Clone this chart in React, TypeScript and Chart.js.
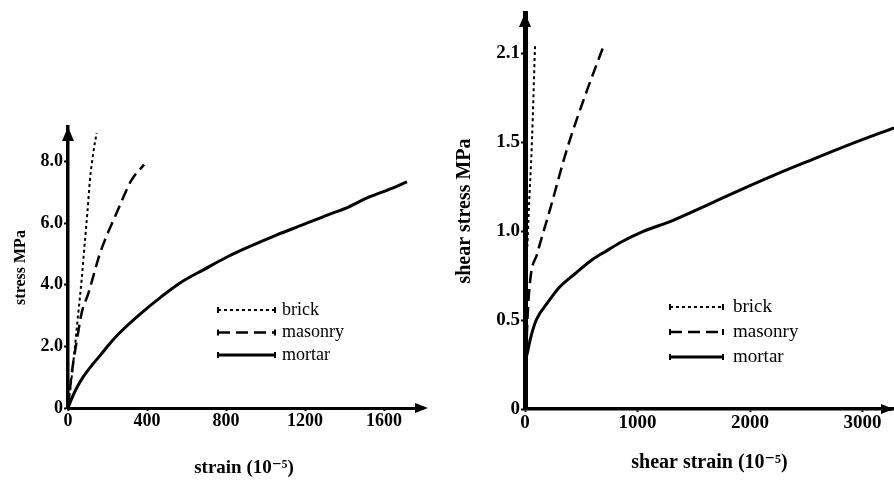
import { useEffect, useRef } from 'react';
import { Chart, registerables } from 'chart.js';

Chart.register(...registerables);

// ---------- Shared ----------
const seriesLabels = ['brick', 'masonry', 'mortar'];

// ---------- Left panel: compression ----------
const strainTicks = [0, 400, 800, 1200, 1600];
const strainTickLabels = ['0', '400', '800', '1200', '1600'];
const stressTicks = [0, 2, 4, 6, 8];
const stressTickLabels = ['0', '2.0', '4.0', '6.0', '8.0'];

const brickStrain = [0, 19, 35, 52, 69, 86, 98, 111, 128, 145];
const brickStress = [0, 1.02, 1.98, 3.08, 4.16, 5.45, 6.33, 7.4, 8.28, 8.93];

const masonryStrain = [0, 19, 45, 69, 103, 162, 246, 322, 385];
const masonryStress = [0, 1.13, 2.2, 3.08, 3.72, 5.02, 6.33, 7.4, 7.9];

const mortarStrain = [0, 15, 40, 76, 120, 162, 210, 263, 365, 470, 567, 690, 805, 930, 1058, 1190, 1316, 1420, 1514, 1620, 1716];
const mortarStress = [0, 0.25, 0.6, 1.0, 1.38, 1.7, 2.08, 2.45, 3.05, 3.6, 4.06, 4.5, 4.9, 5.27, 5.62, 5.95, 6.27, 6.52, 6.82, 7.08, 7.34];

// ---------- Right panel: shear ----------
const shearStrainTicks = [0, 1000, 2000, 3000];
const shearStrainTickLabels = ['0', '1000', '2000', '3000'];
const shearStressTicks = [0, 0.5, 1.0, 1.5, 2.0];
const shearStressTickLabels = ['0', '0.5', '1.0', '1.5', '2.1'];

const shearBrickStrain = [0, 5, 27, 62, 89];
const shearBrickStress = [0, 0.5, 1.0, 1.51, 2.04];

const shearMasonryStrain = [0, 18, 44, 107, 222, 373, 551, 693];
const shearMasonryStress = [0, 0.44, 0.71, 0.87, 1.12, 1.46, 1.79, 2.03];

const shearMortarStrain = [0, 2, 15, 50, 100, 204, 300, 444, 600, 729, 860, 1022, 1316, 1600, 1911, 2200, 2507, 2900, 3280];
const shearMortarStress = [0, 0.2, 0.3, 0.4, 0.5, 0.6, 0.68, 0.76, 0.84, 0.89, 0.94, 0.99, 1.06, 1.14, 1.23, 1.31, 1.39, 1.49, 1.58];

// ---------- Styles ----------
const SERIF = "'Liberation Serif', 'DejaVu Serif', 'Times New Roman', serif";
const seriesStyles = [
  { borderWidth: 2, borderDash: [3, 3] },
  { borderWidth: 2.5, borderDash: [12, 6] },
  { borderWidth: 3, borderDash: [] as number[] },
];

const zip = (xs: number[], ys: number[]) => xs.map((x, i) => ({ x, y: ys[i] }));

const axisArrows = {
  id: 'axisArrows',
  afterDraw(chart: any, _args: any, opts: any) {
    const { ctx, chartArea } = chart;
    const { left, right, top, bottom } = chartArea;
    ctx.save();
    ctx.fillStyle = '#000';
    ctx.strokeStyle = '#000';
    const tipX = right + (opts.xExtend || 0);
    ctx.lineWidth = opts.xWidth || 3;
    ctx.beginPath();
    ctx.moveTo(right - 2, bottom);
    ctx.lineTo(tipX - 6, bottom);
    ctx.stroke();
    ctx.beginPath();
    ctx.moveTo(tipX, bottom);
    ctx.lineTo(tipX - 13, bottom - 5);
    ctx.lineTo(tipX - 13, bottom + 5);
    ctx.closePath();
    ctx.fill();
    const tipY = top;
    ctx.beginPath();
    ctx.moveTo(left, tipY);
    ctx.lineTo(left - 6, tipY + 14);
    ctx.lineTo(left + 6, tipY + 14);
    ctx.closePath();
    ctx.fill();
    ctx.restore();
  },
};

const inlineLegend = {
  id: 'inlineLegend',
  afterDraw(chart: any, _args: any, opts: any) {
    const { ctx } = chart;
    ctx.save();
    chart.data.datasets.forEach((ds: any, i: number) => {
      const y = opts.y + i * opts.rowGap;
      const x0 = opts.x;
      const x1 = opts.x + opts.lineLen;
      ctx.strokeStyle = '#000';
      ctx.fillStyle = '#000';
      ctx.lineWidth = ds.borderWidth;
      ctx.setLineDash(ds.borderDash || []);
      ctx.beginPath();
      ctx.moveTo(x0, y);
      ctx.lineTo(x1, y);
      ctx.stroke();
      ctx.setLineDash([]);
      ctx.lineWidth = 2;
      ctx.beginPath();
      ctx.moveTo(x0, y - 3);
      ctx.lineTo(x0, y + 3);
      ctx.moveTo(x1, y - 3);
      ctx.lineTo(x1, y + 3);
      ctx.stroke();
      ctx.font = `${opts.fontSize}px ${SERIF}`;
      ctx.textBaseline = 'middle';
      ctx.textAlign = 'left';
      ctx.fillText(ds.label, x1 + opts.textGap, y);
    });
    ctx.restore();
  },
};

type PanelCfg = {
  xTitle: string;
  yTitle: string;
  xTicks: number[];
  xLabels: string[];
  yTicks: number[];
  yLabels: string[];
  xMax: number;
  yMax: number;
  series: { x: number[]; y: number[] }[];
  padTop: number;
  padRight: number;
  yAxisWidth: number;
  xAxisHeight: number;
  yBorder: number;
  xBorder: number;
  tickFont: number;
  xTitleFont: number;
  yTitleFont: number;
  xTitlePad: number;
  yTitlePad: number;
  xExtend: number;
  legend: { x: number; y: number; rowGap: number; lineLen: number; textGap: number; fontSize: number };
};

const leftCfg: PanelCfg = {
  xTitle: 'strain (10\u207B\u2075)',
  yTitle: 'stress MPa',
  xTicks: strainTicks,
  xLabels: strainTickLabels,
  yTicks: stressTicks,
  yLabels: stressTickLabels,
  xMax: 1782,
  yMax: 9.12,
  series: [
    { x: brickStrain, y: brickStress },
    { x: masonryStrain, y: masonryStress },
    { x: mortarStrain, y: mortarStress },
  ],
  padTop: 127,
  padRight: 27,
  yAxisWidth: 68,
  xAxisHeight: 74,
  yBorder: 3.5,
  xBorder: 3,
  tickFont: 18,
  xTitleFont: 19,
  yTitleFont: 16,
  xTitlePad: 3,
  yTitlePad: 11,
  xExtend: 8,
  legend: { x: 218, y: 310, rowGap: 22.5, lineLen: 57, textGap: 7, fontSize: 18 },
};

const rightCfg: PanelCfg = {
  xTitle: 'shear strain (10\u207B\u2075)',
  yTitle: 'shear stress MPa',
  xTicks: shearStrainTicks,
  xLabels: shearStrainTickLabels,
  yTicks: shearStressTicks,
  yLabels: shearStressTickLabels,
  xMax: 3280,
  yMax: 2.225,
  series: [
    { x: shearBrickStrain, y: shearBrickStress },
    { x: shearMasonryStrain, y: shearMasonryStress },
    { x: shearMortarStrain, y: shearMortarStress },
  ],
  padTop: 13,
  padRight: 0,
  yAxisWidth: 78,
  xAxisHeight: 73,
  yBorder: 5,
  xBorder: 3.5,
  tickFont: 19,
  xTitleFont: 20,
  yTitleFont: 20,
  xTitlePad: 7,
  yTitlePad: 6,
  xExtend: 0,
  legend: { x: 223, y: 307, rowGap: 25, lineLen: 53, textGap: 10, fontSize: 19 },
};

function buildConfig(cfg: PanelCfg): any {
  return {
    type: 'line',
    data: {
      datasets: cfg.series.map((s, i) => ({
        label: seriesLabels[i],
        data: zip(s.x, s.y),
        borderColor: '#000',
        backgroundColor: '#000',
        borderWidth: seriesStyles[i].borderWidth,
        borderDash: seriesStyles[i].borderDash,
        pointRadius: 0,
        cubicInterpolationMode: 'monotone',
        fill: false,
        clip: false,
      })),
    },
    options: {
      responsive: false,
      animation: false,
      layout: { padding: { left: 0, right: cfg.padRight, top: cfg.padTop, bottom: 0 } },
      plugins: {
        legend: { display: false },
        tooltip: { enabled: false },
        axisArrows: { xExtend: cfg.xExtend, xWidth: cfg.xBorder },
        inlineLegend: cfg.legend,
      },
      scales: {
        x: {
          type: 'linear',
          min: 0,
          max: cfg.xMax,
          afterBuildTicks: (s: any) => {
            s.ticks = cfg.xTicks.map((v) => ({ value: v }));
          },
          afterFit: (s: any) => {
            s.height = cfg.xAxisHeight;
          },
          ticks: {
            autoSkip: false,
            maxRotation: 0,
            padding: 0,
            color: '#000',
            font: { family: SERIF, size: cfg.tickFont, weight: 'bold' },
            callback: (_v: any, i: number) => cfg.xLabels[i],
          },
          grid: { drawOnChartArea: false, drawTicks: true, tickLength: 3, tickWidth: 2, color: '#000' },
          border: { display: true, color: '#000', width: cfg.xBorder },
          title: {
            display: true,
            text: cfg.xTitle,
            color: '#000',
            font: { family: SERIF, size: cfg.xTitleFont, weight: 'bold' },
            padding: { top: 0, bottom: cfg.xTitlePad },
          },
        },
        y: {
          type: 'linear',
          min: 0,
          max: cfg.yMax,
          afterBuildTicks: (s: any) => {
            s.ticks = cfg.yTicks.map((v) => ({ value: v }));
          },
          afterFit: (s: any) => {
            s.width = cfg.yAxisWidth;
          },
          ticks: {
            autoSkip: false,
            padding: 1,
            color: '#000',
            font: { family: SERIF, size: cfg.tickFont, weight: 'bold' },
            callback: (_v: any, i: number) => cfg.yLabels[i],
          },
          grid: { drawOnChartArea: false, drawTicks: true, tickLength: 4, tickWidth: 2, color: '#000' },
          border: { display: true, color: '#000', width: cfg.yBorder },
          title: {
            display: true,
            text: cfg.yTitle,
            color: '#000',
            font: { family: SERIF, size: cfg.yTitleFont, weight: 'bold' },
            padding: { top: cfg.yTitlePad, bottom: 0 },
          },
        },
      },
    },
    plugins: [axisArrows, inlineLegend],
  };
}

function Panel({ cfg, left }: { cfg: PanelCfg; left: number }) {
  const ref = useRef<HTMLCanvasElement>(null);
  useEffect(() => {
    const chart = new Chart(ref.current as HTMLCanvasElement, buildConfig(cfg));
    return () => chart.destroy();
  }, [cfg]);
  return (
    <div style={{ position: 'absolute', left, top: 0, width: 447, height: 482 }}>
      <canvas ref={ref} width={447} height={482} style={{ display: 'block' }} />
    </div>
  );
}

export default function App() {
  return (
    <div style={{ position: 'fixed', left: 0, top: 0, width: 894, height: 482, background: '#fff', overflow: 'hidden' }}>
      <Panel cfg={leftCfg} left={0} />
      <Panel cfg={rightCfg} left={447} />
    </div>
  );
}
